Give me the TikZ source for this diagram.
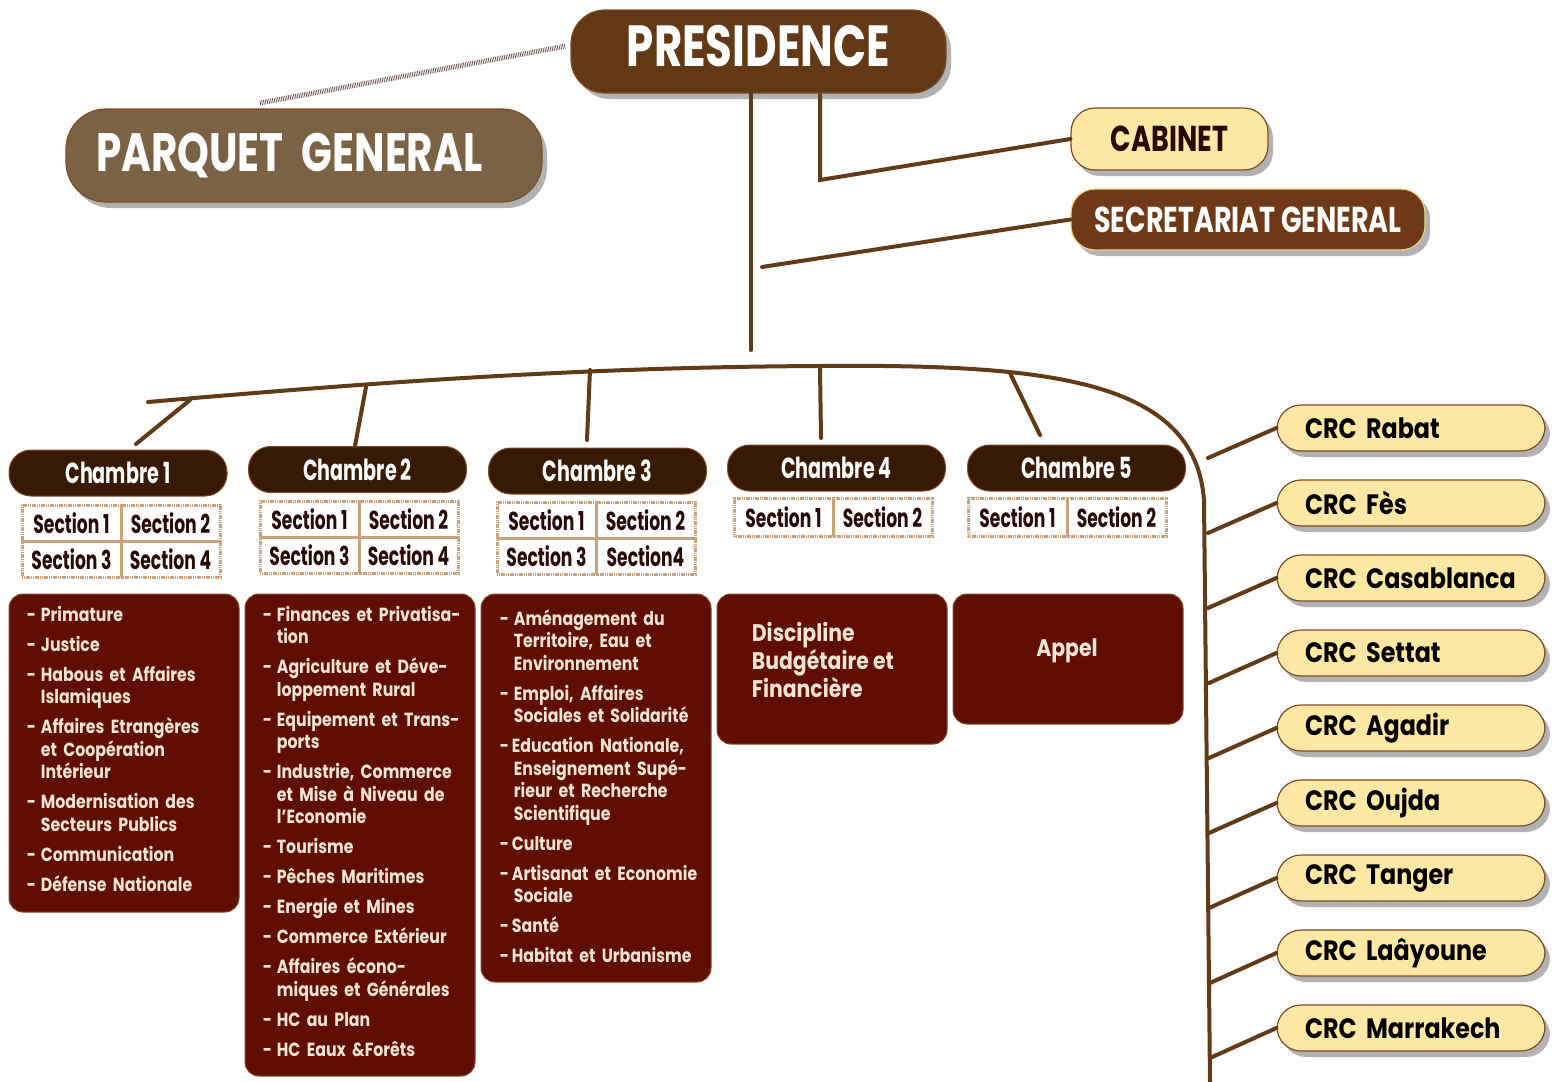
\documentclass[tikz,border=0pt]{standalone}
\usepackage{fontspec}
\setmainfont{Poppins}
\newfontfamily\narrowfont[FakeStretch=0.75]{Poppins}
\newfontfamily\condfont[FakeStretch=0.66]{Poppins}
\newfontfamily\midfont[FakeStretch=0.85]{Poppins}
\newfontfamily\bodyfont[FakeStretch=0.83]{Poppins}
\usetikzlibrary{shadows}

\definecolor{presbrown}{RGB}{99,56,20}
\definecolor{parqbrown}{RGB}{123,98,66}
\definecolor{sgbrown}{RGB}{112,57,22}
\definecolor{chamdark}{RGB}{56,26,4}
\definecolor{dutyred}{RGB}{96,13,2}
\definecolor{paper}{RGB}{243,228,212}
\definecolor{crcyellow}{RGB}{254,232,164}
\definecolor{edgebrown}{RGB}{128,74,36}
\definecolor{linkbrown}{RGB}{99,58,22}
\definecolor{sectan}{RGB}{201,162,122}
\definecolor{inkdark}{RGB}{40,8,4}

% one ministry in a red box: dash, then hanging lines
\newcommand\duty[2][7pt]{\par\hangindent=7pt\hangafter=1\noindent
  \makebox[#1][l]{-}#2\par\vspace{3.75pt}}

\begin{document}
\begin{tikzpicture}[x=0.5pt, y=-0.5pt,
  link/.style={draw=linkbrown, line width=2pt, line cap=round},
  hatch/.style={draw=inkdark!75, line width=2.5pt, dash pattern=on 0.35pt off 0.55pt},
  shade/.style={drop shadow={shadow xshift=2.5pt, shadow yshift=-3pt, fill=black, opacity=0.3}},
  presbox/.style={shade, rounded corners=17pt, fill=presbrown, draw=edgebrown, line width=0.6pt,
    minimum width=187.5pt, minimum height=41.5pt, text=white, text depth=6pt,
    font=\narrowfont\bfseries\fontsize{29pt}{32pt}\selectfont},
  parqbox/.style={shade, rounded corners=20pt, fill=parqbrown, draw=edgebrown, line width=0.6pt,
    minimum width=238pt, minimum height=46.5pt, text width=208pt, inner xsep=15pt, align=left,
    text=white, font=\narrowfont\bfseries\fontsize{27pt}{30pt}\selectfont},
  cabbox/.style={shade, rounded corners=12pt, fill=crcyellow, draw=edgebrown, line width=0.6pt,
    minimum width=98.5pt, minimum height=31pt, text=inkdark,
    font=\narrowfont\bfseries\fontsize{18pt}{20pt}\selectfont},
  sgbox/.style={shade, rounded corners=12pt, fill=sgbrown, draw=crcyellow!80!brown, line width=0.6pt,
    minimum width=177pt, minimum height=30.5pt, text=white,
    font=\narrowfont\bfseries\fontsize{18pt}{20pt}\selectfont},
  chambox/.style={rounded corners=11pt, fill=chamdark, draw=edgebrown, line width=0.5pt,
    minimum width=109pt, minimum height=23pt, text=white,
    font=\condfont\bfseries\fontsize{14.5pt}{16pt}\selectfont},
  cell/.style={draw=sectan, line width=1.5pt, dash pattern=on 0.6pt off 0.3pt,
    minimum width=49.5pt, minimum height=18pt, inner sep=0pt, text=inkdark,
    font=\condfont\bfseries\fontsize{13pt}{14pt}\selectfont},
  dutybox/.style={rounded corners=7pt, fill=dutyred, draw=edgebrown, line width=0.5pt,
    minimum width=115pt},
  dutytext/.style={anchor=north west, inner sep=0pt, text width=106pt, text=paper,
    font=\bodyfont\bfseries\fontsize{9.5pt}{11.25pt}\selectfont},
  crcbox/.style={shade, rounded corners=12pt, fill=crcyellow, draw=edgebrown, line width=0.6pt,
    minimum height=23pt, text width=120pt, inner xsep=7pt, align=left, text=black,
    execute at begin node=\hspace*{7pt},
    font=\midfont\bfseries\fontsize{14pt}{16pt}\selectfont}]

  \useasboundingbox (0,0) rectangle (1555,1082);

  % top of the court
  \node[presbox] (pres) at (758.5,51.5) {PRESIDENCE};
  \node[parqbox] (parq) at (304,155.5) {PARQUET GENERAL};
  \node[cabbox] (cab) at (1169.5,139) {CABINET};
  \node[sgbox] (sg) at (1248,219.5) {SECRETARIAT GENERAL};

  \coordinate (q0) at (260,103);
  \coordinate (q1) at (566,46);
  \draw[hatch] (q0) -- (q1);

  \coordinate (p0) at (751,93);
  \coordinate (p1) at (751,350);
  \coordinate (c0) at (820,95);
  \coordinate (c1) at (820,180);
  \coordinate (g0) at (762,267);
  \draw[link] (p0) -- (p1);
  \draw[link] (c0) -- (c1) -- (cab.west);
  \draw[link] (g0) -- (sg.west);

  % the long spine, bending down on the right
  \coordinate (sp0) at (148,402);
  \coordinate (sp1) at (820,366);
  \coordinate (sp2) at (1204,500);
  \coordinate (sp3) at (1210,1082);
  \draw[link] (sp0) .. controls (400,380) and (600,367) .. (sp1)
    .. controls (1050,364) and (1195,380) .. (sp2) -- (sp3);

  % chambers
  \node[chambox] (ch1) at (118,473) {Chambre 1};
  \node[chambox] (ch2) at (357.5,469.5) {Chambre 2};
  \node[chambox] (ch3) at (597.5,471) {Chambre 3};
  \node[chambox] (ch4) at (836.5,468) {Chambre 4};
  \node[chambox] (ch5) at (1076.5,468) {Chambre 5};

  \coordinate (k1) at (190,400);  \coordinate (k1e) at (136,444);
  \coordinate (k2) at (366,387);  \coordinate (k2e) at (355,446);
  \coordinate (k3) at (590,370);  \coordinate (k3e) at (587,440);
  \coordinate (k4) at (820,368);  \coordinate (k4e) at (821,438);
  \coordinate (k5) at (1010,373); \coordinate (k5e) at (1040,435);
  \draw[link] (k1) -- (k1e);
  \draw[link] (k2) -- (k2e);
  \draw[link] (k3) -- (k3e);
  \draw[link] (k4) -- (k4e);
  \draw[link] (k5) -- (k5e);

  % sections
  \node[cell] (s11) at (71.5,523) {Section 1};
  \node[cell] (s12) at (170.5,523) {Section 2};
  \node[cell] (s13) at (71.5,559) {Section 3};
  \node[cell] (s14) at (170.5,559) {Section 4};
  \node[cell] (s21) at (309.5,519) {Section 1};
  \node[cell] (s22) at (408.5,519) {Section 2};
  \node[cell] (s23) at (309.5,555) {Section 3};
  \node[cell] (s24) at (408.5,555) {Section 4};
  \node[cell] (s31) at (546.5,520) {Section 1};
  \node[cell] (s32) at (645.5,520) {Section 2};
  \node[cell] (s33) at (546.5,556) {Section 3};
  \node[cell] (s34) at (645.5,556) {Section4};
  \node[cell, minimum height=19pt] (s41) at (783.5,517) {Section 1};
  \node[cell, minimum height=19pt] (s42) at (882.5,517) {Section 2};
  \node[cell, minimum height=19pt] (s51) at (1017.5,517) {Section 1};
  \node[cell, minimum height=19pt] (s52) at (1116.5,517) {Section 2};

  % ministries under each chamber
  \node[dutybox, minimum height=159pt] (d1) at (124,753) {};
  \node[dutybox, minimum height=241pt] (d2) at (360,835) {};
  \node[dutybox, minimum height=194pt] (d3) at (596,788) {};
  \node[dutybox, minimum height=75pt] (d4) at (832,669) {};
  \node[dutybox, minimum height=65pt] (d5) at (1068,659) {};

  \node[dutytext, xshift=9pt, yshift=-2.5pt] (t1) at (d1.north west) {%
    \duty{Primature}\duty{Justice}
    \duty{Habous et Affaires\newline Islamiques}
    \duty{Affaires Etrangères\newline et Coopération\newline Intérieur}
    \duty{Modernisation des\newline Secteurs Publics}
    \duty{Communication}\duty{Défense Nationale}};
  \node[dutytext, xshift=9pt, yshift=-2.5pt] (t2) at (d2.north west) {%
    \duty{Finances et Privatisa-\newline tion}
    \duty{Agriculture et Déve-\newline loppement Rural}
    \duty{Equipement et Trans-\newline ports}
    \duty{Industrie, Commerce\newline et Mise à Niveau de\newline l’Economie}
    \duty{Tourisme}\duty{Pêches Maritimes}\duty{Energie et Mines}
    \duty{Commerce Extérieur}
    \duty{Affaires écono-\newline miques et Générales}
    \duty{HC au Plan}\duty{HC Eaux \&Forêts}};
  \node[dutytext, xshift=9.5pt, yshift=-4.5pt] (t3) at (d3.north west) {%
    \duty{Aménagement du\newline Territoire, Eau et\newline Environnement}
    \duty{Emploi, Affaires\newline Sociales et Solidarité}
    \duty[6pt]{Education Nationale,\newline Enseignement Supé-\newline rieur et Recherche\newline Scientifique}
    \duty[6pt]{Culture}
    \duty[6pt]{Artisanat et Economie\newline Sociale}
    \duty[6pt]{Santé}\duty[6pt]{Habitat et Urbanisme}};
  \node[anchor=north west, inner sep=0pt, align=left, text=paper,
    font=\midfont\bfseries\fontsize{12pt}{14pt}\selectfont, xshift=17.5pt, yshift=-14pt]
    (t4) at (d4.north west) {Discipline\\Budgétaire et\\Financière};
  \node[text=paper, font=\midfont\bfseries\fontsize{12pt}{14pt}\selectfont] (t5) at (1067,651) {Appel};

  % regional courts
  \node[crcbox] (crc1) at (1411,428) {CRC Rabat};
  \node[crcbox] (crc2) at (1411,503) {CRC Fès};
  \node[crcbox] (crc3) at (1411,578) {CRC Casablanca};
  \node[crcbox] (crc4) at (1411,653) {CRC Settat};
  \node[crcbox] (crc5) at (1411,728) {CRC Agadir};
  \node[crcbox] (crc6) at (1411,803) {CRC Oujda};
  \node[crcbox] (crc7) at (1411,878) {CRC Tanger};
  \node[crcbox] (crc8) at (1411,953) {CRC Laâyoune};
  \node[crcbox] (crc9) at (1411,1028) {CRC Marrakech};

  \coordinate (r1) at (1208,458);
  \coordinate (r2) at (1208,533);
  \coordinate (r3) at (1208,608);
  \coordinate (r4) at (1209,683);
  \coordinate (r5) at (1209,758);
  \coordinate (r6) at (1209,833);
  \coordinate (r7) at (1209,908);
  \coordinate (r8) at (1210,983);
  \coordinate (r9) at (1210,1058);
  \draw[link] (r1) -- (crc1.west);
  \draw[link] (r2) -- (crc2.west);
  \draw[link] (r3) -- (crc3.west);
  \draw[link] (r4) -- (crc4.west);
  \draw[link] (r5) -- (crc5.west);
  \draw[link] (r6) -- (crc6.west);
  \draw[link] (r7) -- (crc7.west);
  \draw[link] (r8) -- (crc8.west);
  \draw[link] (r9) -- (crc9.west);
\end{tikzpicture}
\end{document}
